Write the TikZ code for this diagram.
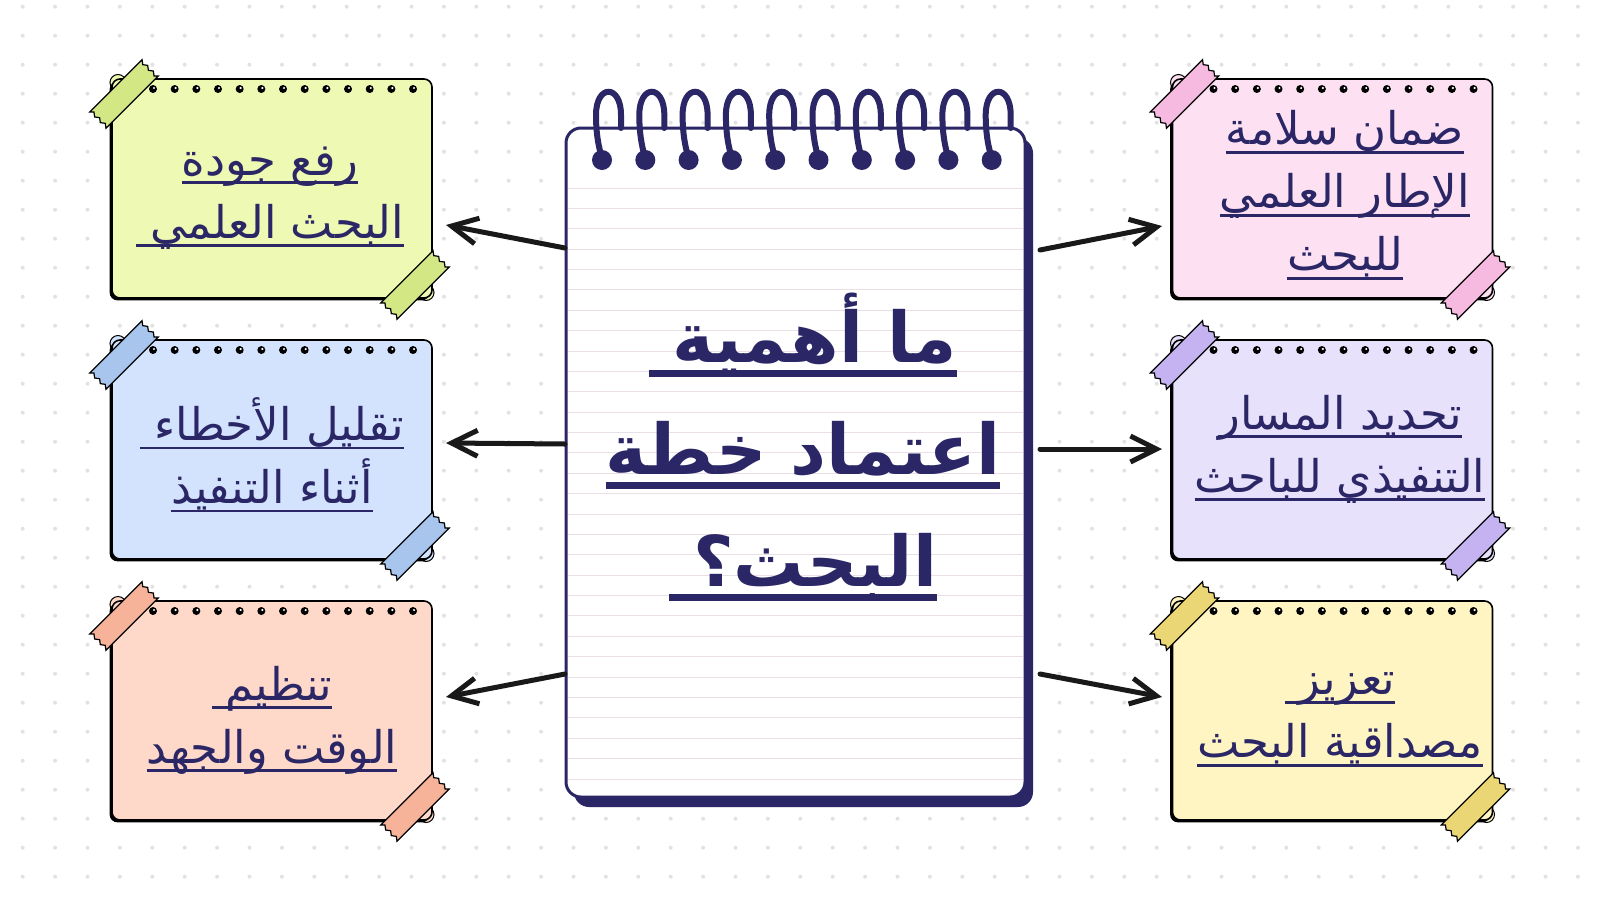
\documentclass[tikz,border=0pt]{standalone}
\usepackage{fontspec}
\usepackage{tikz}
\usetikzlibrary{arrows.meta,shadows}
\newfontfamily\arabicfont[Script=Arabic]{DejaVu Sans}
\TeXXeTstate=1
\definecolor{navy}{HTML}{2B2766}
\definecolor{dotgray}{HTML}{E2E2E2}
\definecolor{pageline}{HTML}{EADFE6}
\definecolor{greencard}{HTML}{EEF9B3}
\definecolor{greentape}{HTML}{D4E785}
\definecolor{bluecard}{HTML}{D3E3FD}
\definecolor{bluetape}{HTML}{A8C5EE}
\definecolor{salmoncard}{HTML}{FED8C8}
\definecolor{salmontape}{HTML}{F7B29A}
\definecolor{pinkcard}{HTML}{FDE1F3}
\definecolor{pinktape}{HTML}{F6B9DF}
\definecolor{lilaccard}{HTML}{E7E1FB}
\definecolor{lilactape}{HTML}{C4B3F0}
\definecolor{yellowcard}{HTML}{FEF5C3}
\definecolor{yellowtape}{HTML}{EBD676}
% underlined right-to-left line
\newcommand\ultext[2][0.065em]{\setbox0\hbox{\beginR #2\endR}\rlap{\rule[-0.2em]{\wd0}{#1}}\box0}
\tikzset{
  card/.style={draw=black, line width=0.8pt, rounded corners=4pt,
    minimum width=160pt, minimum height=109.5pt, inner sep=0pt,
    drop shadow={shadow xshift=-1.2pt, shadow yshift=-1.2pt, opacity=1, fill=black}},
  cardtext/.style={text=navy, align=center, inner sep=0pt,
    font=\arabicfont\fontsize{22.5}{31.5}\selectfont},
  notebook/.style={draw=navy, fill=white, line width=1.5pt, rounded corners=7.5pt,
    minimum width=229.5pt, minimum height=334.5pt, inner sep=0pt,
    drop shadow={shadow xshift=4pt, shadow yshift=-5pt, opacity=1, fill=navy}},
  titletext/.style={text=navy, align=center, inner sep=0pt,
    font=\arabicfont\bfseries\fontsize{35}{56}\selectfont},
  spiral/.style={draw=navy, line width=3pt, line cap=round},
  arrowline/.style={draw=black!90, line width=2.5pt, line cap=round,
    -{Straight Barb[length=13pt, width=13pt]}},
  pics/tape/.style={code={
    \fill[#1, draw=black, line width=0.6pt] (-37,-11.5) -- (37,-11.5) -- (34,-7.5) -- (37,-3.5)
      -- (34,0.5) -- (37,4.5) -- (34,8.5) -- (37,11.5) -- (-37,11.5) -- (-34,7.5) -- (-37,3.5)
      -- (-34,-0.5) -- (-37,-4.5) -- (-34,-8.5) -- cycle;
  }}
}
\begin{document}
\begin{tikzpicture}[x=0.5pt, y=-0.5pt]
  \useasboundingbox (0,0) rectangle (1600,900);
  \fill[white] (0,0) rectangle (1600,900);
  % dotted background
  \foreach \i in {0,...,49}
    \foreach \j in {0,...,30}
      \fill[dotgray] (22.7+32.4*\i, 6.7+29*\j) circle (2);

  % note cards
  \foreach \cx/\cy/\fc/\tc/\nm in {272/188.5/greencard/greentape/g, 272/449.5/bluecard/bluetape/b,
      272/710.5/salmoncard/salmontape/s, 1332.5/188.5/pinkcard/pinktape/p,
      1332.5/449.5/lilaccard/lilactape/l, 1332.5/710.5/yellowcard/yellowtape/y}{
    \filldraw[\fc, draw=black, line width=0.5pt] (\cx-154, \cy-106) circle (8);
    \filldraw[\fc, draw=black, line width=0.5pt] (\cx+154, \cy+104) circle (8);
    \node[card, fill=\fc] (c\nm) at (\cx,\cy) {};
    \foreach \k in {0,...,12}{
      \fill[black] (\cx-119+21.67*\k, \cy-99.5) circle (4);
      \fill[white] (\cx-118+21.67*\k, \cy-100.5) circle (1.2);
    }
    \pic[rotate=45] at (\cx-148, \cy-94.5) {tape=\tc};
    \pic[rotate=45] at (\cx+143, \cy+96.5) {tape=\tc};
  }

  \node[cardtext] (tg) at (270,198) {\ultext{رفع جودة}\\\ultext{البحث العلمي }};
  \node[cardtext] (tb) at (272,455) {\ultext{تقليل الأخطاء }\\\ultext{أثناء التنفيذ}};
  \node[cardtext] (ts) at (272,720) {\ultext{تنظيم }\\\ultext{الوقت والجهد}};
  \node[cardtext] (tp) at (1345,195) {\ultext{ضمان سلامة}\\\ultext{الإطار العلمي}\\\ultext{للبحث}};
  \node[cardtext] (tl) at (1340,449) {\ultext{تحديد المسار}\\\ultext{التنفيذي للباحث}};
  \node[cardtext] (ty) at (1340,720) {\ultext{تعزيز }\\\ultext{مصداقية البحث}};

  % notebook
  \node[notebook] (nb) at (795.5,462.5) {};
  \foreach \j in {0,...,29}
    \draw[pageline, line width=0.5pt] (568, 188+20.38*\j) -- (1023, 188+20.38*\j);
  \foreach \i in {0,...,9}{
    \draw[spiral] (602+43.3*\i,158) .. controls (598+43.3*\i,145) and (596+43.3*\i,132)
      .. (596+43.3*\i,115) .. controls (596+43.3*\i,84) and (621+43.3*\i,84)
      .. (621+43.3*\i,115) -- (621+43.3*\i,128);
    \fill[navy] (602+43.3*\i,160) circle (10);
  }
  \node[titletext] (title) at (803,447) {\ultext[0.1em]{ما أهمية }\\\ultext[0.1em]{اعتماد خطة}\\\ultext[0.1em]{البحث؟ }};

  % arrows
  \coordinate (lg) at (565,248);  \coordinate (ag) at (446,225);
  \coordinate (lb) at (565,444);  \coordinate (ab) at (446,443);
  \coordinate (ls) at (565,674);  \coordinate (as) at (446,697);
  \coordinate (rp) at (1040,250); \coordinate (ap) at (1162,226);
  \coordinate (rl) at (1040,449); \coordinate (al) at (1162,449);
  \coordinate (ry) at (1040,674); \coordinate (ay) at (1162,697);
  \draw[arrowline] (lg) -- (ag);
  \draw[arrowline] (lb) -- (ab);
  \draw[arrowline] (ls) -- (as);
  \draw[arrowline] (rp) -- (ap);
  \draw[arrowline] (rl) -- (al);
  \draw[arrowline] (ry) -- (ay);
\end{tikzpicture}
\end{document}
